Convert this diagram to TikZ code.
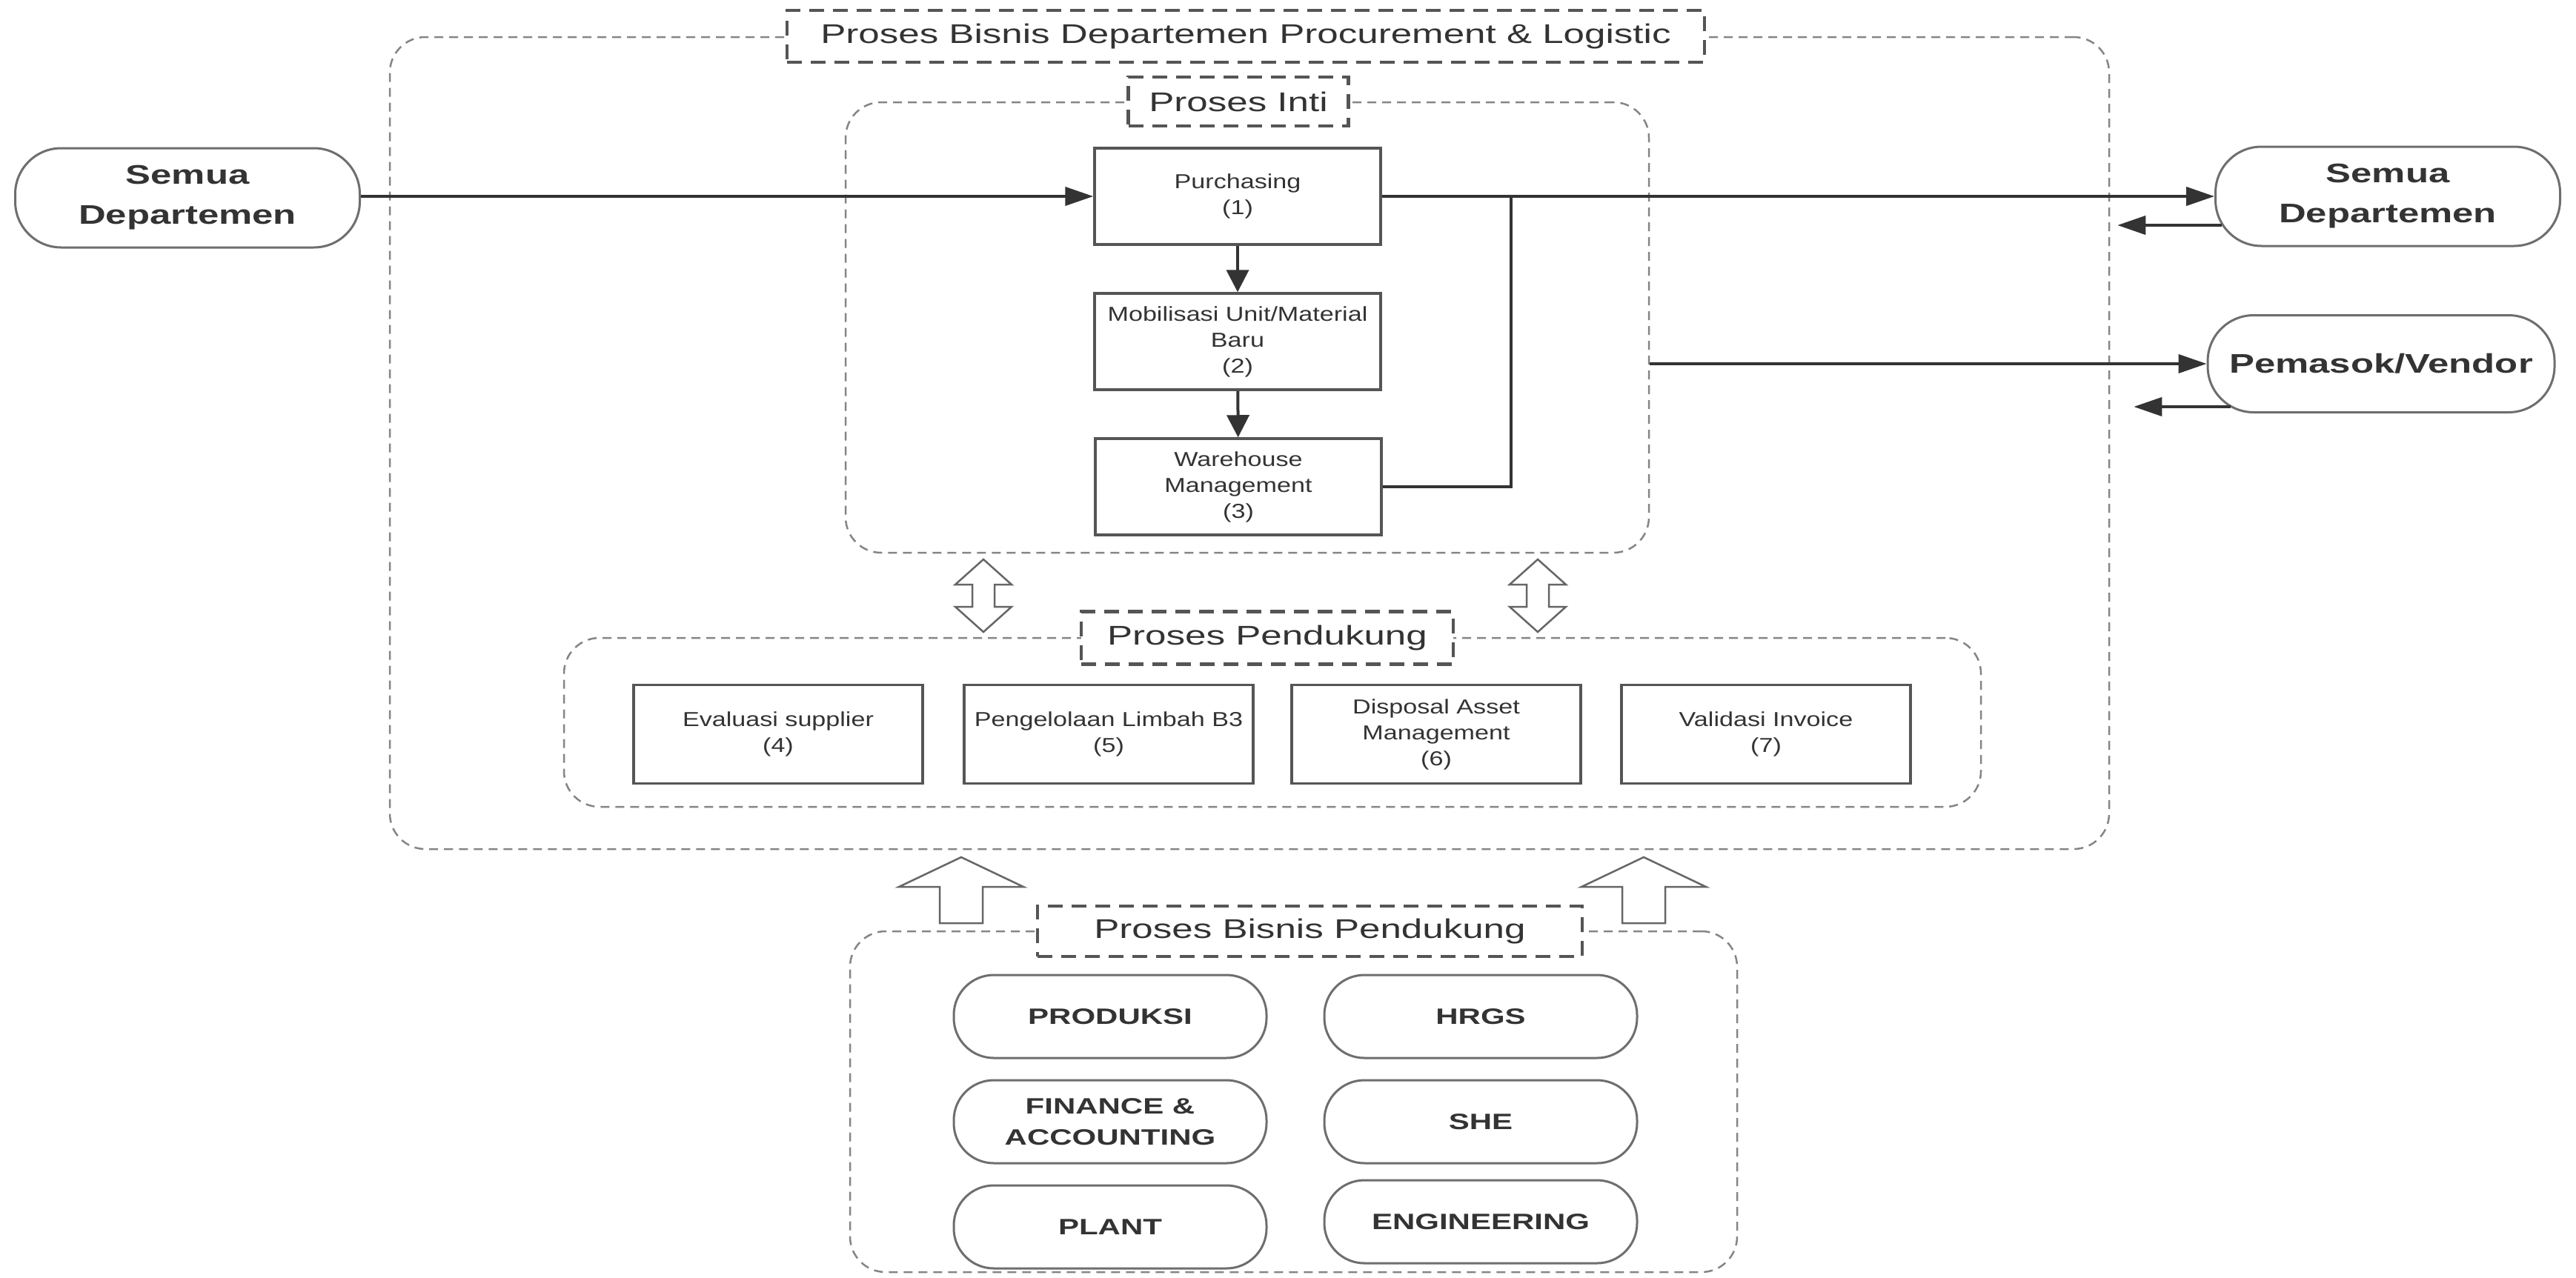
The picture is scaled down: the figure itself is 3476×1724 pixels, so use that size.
\documentclass[tikz,border=0pt]{standalone}
\usepackage{fontspec}
\setmainfont{Liberation Sans}[FakeStretch=1.4]
\newfontfamily\smallfam{Liberation Sans}[FakeStretch=1.25]
\usetikzlibrary{arrows.meta}
\definecolor{ink}{HTML}{333333}
\definecolor{boxline}{HTML}{555555}
\definecolor{dashline}{HTML}{858585}
\definecolor{lbl}{HTML}{555555}
\begin{document}
\begin{tikzpicture}[x=1pt,y=-1pt,
  every node/.style={text=ink},
  container/.style={draw=dashline, line width=2.5pt, dash pattern=on 12pt off 8pt, rounded corners=48pt, inner sep=0pt},
  lblbox/.style={draw=lbl, fill=white, line width=4.5pt, dash pattern=on 20pt off 12pt, inner sep=0pt, font=\fontsize{36.5}{42}\selectfont},
  procbox/.style={draw=boxline, line width=3.5pt, minimum width=386pt, minimum height=130pt, inner sep=0pt, align=center, font=\smallfam\fontsize{27.3}{35}\selectfont},
  pill/.style={draw=boxline!85, line width=3pt, rounded corners=62pt, minimum width=465pt, minimum height=134pt, inner sep=0pt, align=center, font=\bfseries\fontsize{36.3}{54}\selectfont},
  spill/.style={draw=boxline!85, line width=3pt, rounded corners=54pt, minimum width=422pt, minimum height=112pt, inner sep=0pt, align=center, font=\bfseries\fontsize{30}{42}\selectfont},
  conn/.style={draw=ink, line width=4pt},
  arr/.style={conn, -{Triangle[length=38pt,width=25pt]}},
  varr/.style={conn, -{Triangle[length=30pt,width=30pt]}},
  blockarrow/.style={draw=boxline!90, line width=2.5pt, fill=white, line join=miter},
  dblarrow/.pic={\draw[blockarrow] (0,-49) -- (38,-15) -- (15,-15) -- (15,15) -- (38,15) -- (0,49) -- (-38,15) -- (-15,15) -- (-15,-15) -- (-38,-15) -- cycle;},
  uparrow/.pic={\draw[blockarrow] (0,-44.5) -- (84,-4.5) -- (29,-4.5) -- (29,44.5) -- (-29,44.5) -- (-29,-4.5) -- (-84,-4.5) -- cycle;},
]
\fill[white] (0,0) rectangle (3476,1724);
\useasboundingbox (0,0) rectangle (3476,1724);

% containers
\node[container, minimum width=2320pt, minimum height=1096pt] (outer) at (1686,598) {};
\node[container, minimum width=1084pt, minimum height=608pt] (inti) at (1683,442) {};
\node[container, minimum width=1912pt, minimum height=228pt] (pend) at (1717,975) {};
\node[container, minimum width=1197pt, minimum height=460pt] (bpend) at (1745.5,1487) {};

% container labels
\node[lblbox, minimum width=1238pt, minimum height=70pt] (tOuter) at (1681,49) {Proses Bisnis Departemen Procurement \& Logistic};
\node[lblbox, minimum width=297pt, minimum height=66pt] (tInti) at (1671,137) {Proses Inti};
\node[lblbox, minimum width=502pt, minimum height=71pt] (tPend) at (1710,861) {Proses Pendukung};
\node[lblbox, minimum width=735pt, minimum height=68pt] (tBpend) at (1767.5,1257) {Proses Bisnis Pendukung};

% core process boxes
\node[procbox] (purch) at (1670,265) {Purchasing\\(1)};
\node[procbox] (mob) at (1670,461) {Mobilisasi Unit/Material\\Baru\\(2)};
\node[procbox] (ware) at (1671,657) {Warehouse\\Management\\(3)};

% supporting process boxes
\node[procbox, minimum width=390pt, minimum height=133pt] (p4) at (1050,991) {Evaluasi supplier\\(4)};
\node[procbox, minimum width=390pt, minimum height=133pt] (p5) at (1496,991) {Pengelolaan Limbah B3\\(5)};
\node[procbox, minimum width=390pt, minimum height=133pt] (p6) at (1938,991) {Disposal Asset\\Management\\(6)};
\node[procbox, minimum width=390pt, minimum height=133pt] (p7) at (2383,991) {Validasi Invoice\\(7)};

% external parties
\node[pill] (semL) at (253,267) {Semua\\Departemen};
\node[pill] (semR) at (3222,265) {Semua\\Departemen};
\node[pill, minimum width=468pt, minimum height=131pt] (pem) at (3213,491) {Pemasok/Vendor};

% supporting business units
\node[spill] (prod) at (1498,1372) {PRODUKSI};
\node[spill] (hrgs) at (1998,1372) {HRGS};
\node[spill] (fin) at (1498,1514) {FINANCE \&\\ACCOUNTING};
\node[spill] (she) at (1998,1514) {SHE};
\node[spill] (plant) at (1498,1656) {PLANT};
\node[spill] (eng) at (1998,1649) {ENGINEERING};

% connectors
\draw[arr] (semL.east |- purch.west) -- (purch.west);
\draw[varr] (purch) -- (mob);
\draw[varr] (mob) -- (ware);
\coordinate (junc) at (2039,265);
\draw[arr] (purch.east) -- (semR.west);
\draw[conn] (ware.east) -| (junc);
\draw[arr] (inti.east |- pem.west) -- (pem.west);
\draw[arr] ([xshift=10pt,yshift=-39pt]semR.west) -- ([xshift=10pt,yshift=-39pt]semR.west -| outer.east);
\draw[arr] ([xshift=32pt,yshift=-58pt]pem.west) -- ([xshift=32pt,yshift=-58pt]pem.west -| outer.east);

% block arrows
\pic (dl) at (1327,804) {dblarrow};
\pic (dr) at (2075,804) {dblarrow};
\pic (ul) at (1297,1201.5) {uparrow};
\pic (ur) at (2218,1201.5) {uparrow};
\end{tikzpicture}
\end{document}
